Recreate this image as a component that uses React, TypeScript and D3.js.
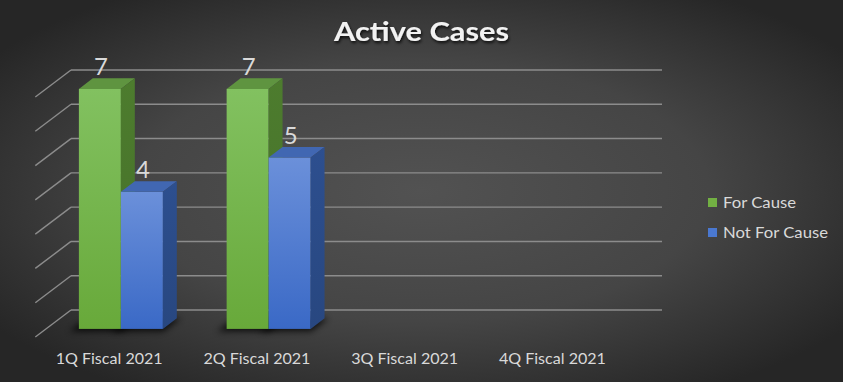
import React from "react";
import * as d3 from "d3";

const categories = ["1Q Fiscal 2021", "2Q Fiscal 2021", "3Q Fiscal 2021", "4Q Fiscal 2021"];
const seriesNames = ["For Cause", "Not For Cause"];
const forCause: (number | null)[] = [7, 7, null, null];
const notForCause: (number | null)[] = [4, 5, null, null];
const yTicks = [0, 1, 2, 3, 4, 5, 6, 7];
const title = "Active Cases";

const W = 843;
const H = 382;
const DX = 35.7;
const DY = 27;
const D_FRONT = 0.7;
const D_BACK = 0.31;

const palette = [
  { front0: "#82c160", front1: "#68a93a", top: "#5f9440", side: "#4d7c2e", legend: "#72b043" },
  { front0: "#6b90da", front1: "#3a69c6", top: "#4167b2", side: "#2d4f8f", legend: "#4a78d0" },
];
const legendWidths = [73, 105];

export default function App() {
  const x = d3.scaleBand<string>().domain(categories).range([71, 662]);
  const inner = d3
    .scaleBand<string>()
    .domain(seriesNames)
    .range([x.bandwidth() / 2 - 42 + 1, x.bandwidth() / 2 + 42 + 1]);
  const y = d3.scaleLinear().domain([0, 7]).range([310, 70]);

  const proj = (xw: number, yw: number, d: number): [number, number] => [xw - d * DX, yw + d * DY];
  const pts = (arr: [number, number][]) => arr.map((p) => p.join(",")).join(" ");

  const series = [forCause, notForCause];

  const bars: JSX.Element[] = [];
  const shadows: JSX.Element[] = [];
  const labels: JSX.Element[] = [];

  categories.forEach((c, ci) => {
    series.forEach((vals, si) => {
      const v = vals[ci];
      if (v == null) return;
      const x0 = (x(c) as number) + (inner(seriesNames[si]) as number);
      const x1 = x0 + inner.bandwidth();
      const yv = y(v);
      const y0 = y(0);
      const col = palette[si];
      const fTL = proj(x0, yv, D_FRONT);
      const fBR = proj(x1, y0, D_FRONT);
      bars.push(
        <g key={`b${ci}-${si}`}>
          <rect x={fTL[0]} y={fTL[1]} width={fBR[0] - fTL[0]} height={fBR[1] - fTL[1]} fill={`url(#front${si})`} />
          <polygon
            points={pts([proj(x0, yv, D_FRONT), proj(x1, yv, D_FRONT), proj(x1, yv, D_BACK), proj(x0, yv, D_BACK)])}
            fill={col.top}
          />
          <polygon
            points={pts([proj(x1, yv, D_FRONT), proj(x1, yv, D_BACK), proj(x1, y0, D_BACK), proj(x1, y0, D_FRONT)])}
            fill={`url(#side${si})`}
          />
        </g>
      );
      shadows.push(
        <polygon
          key={`s${ci}-${si}`}
          points={pts([
            proj(x0 - 6, y0, D_FRONT + 0.1),
            proj(x1 + 4, y0, D_FRONT + 0.1),
            proj(x1 + 4, y0, D_BACK),
            proj(x0 - 6, y0, D_BACK),
          ])}
          fill="#000"
          opacity={0.75}
          filter="url(#blur)"
        />
      );
      const lx = (fTL[0] + fBR[0]) / 2 + 1;
      const ly = proj(x0, yv, D_BACK)[1] - 3;
      labels.push(
        <text
          key={`l${ci}-${si}`}
          x={lx}
          y={ly}
          textAnchor="middle"
          fontFamily="Lato, 'Open Sans', sans-serif"
          fontSize={24}
          fill="#d9d9d9"
        >
          {v}
        </text>
      );
    });
  });

  return (
    <svg
      width={W}
      height={H}
      viewBox={`0 0 ${W} ${H}`}
      style={{ position: "absolute", left: 0, top: 0, display: "block" }}
    >
      <defs>
        <radialGradient id="bg" cx="0.5" cy="0.5" r="0.62" gradientUnits="objectBoundingBox">
          <stop offset="0" stopColor="#525252" />
          <stop offset="0.55" stopColor="#454545" />
          <stop offset="1" stopColor="#262626" />
        </radialGradient>
        {palette.map((p, i) => (
          <linearGradient key={`f${i}`} id={`front${i}`} x1="0" y1="0" x2="0" y2="1">
            <stop offset="0" stopColor={p.front0} />
            <stop offset="1" stopColor={p.front1} />
          </linearGradient>
        ))}
        {palette.map((p, i) => (
          <linearGradient key={`sd${i}`} id={`side${i}`} x1="0" y1="0" x2="0" y2="1">
            <stop offset="0" stopColor={p.side} />
            <stop offset="1" stopColor={d3.color(p.side)!.darker(0.3).formatHex()} />
          </linearGradient>
        ))}
        <filter id="blur" x="-30%" y="-100%" width="160%" height="300%">
          <feGaussianBlur stdDeviation="3" />
        </filter>
        <filter id="tshadow" x="-10%" y="-30%" width="120%" height="160%">
          <feDropShadow dx="1" dy="2" stdDeviation="1.5" floodColor="#000" floodOpacity="0.8" />
        </filter>
      </defs>
      <rect x={0} y={0} width={W} height={H} fill="url(#bg)" />

      <text
        x={421.5}
        y={41}
        textAnchor="middle"
        fontFamily="Lato, 'Open Sans', sans-serif"
        fontWeight="bold"
        fontSize={27}
        fill="#f2f2f2"
        textLength={175}
        lengthAdjust="spacingAndGlyphs"
        filter="url(#tshadow)"
      >
        {title}
      </text>

      <g stroke="#8c8c8c" strokeWidth={1.4} fill="none">
        {yTicks.map((t) => {
          const yy = y(t);
          const a = proj(71, yy, 0);
          const b = proj(71, yy, 1);
          return (
            <g key={`g${t}`}>
              <line x1={71} x2={662} y1={yy} y2={yy} />
              <line x1={a[0]} y1={a[1]} x2={b[0]} y2={b[1]} />
            </g>
          );
        })}
      </g>

      <g>{shadows}</g>
      <g>{bars}</g>
      <g>{labels}</g>

      <g fontFamily="Lato, 'Open Sans', sans-serif" fontSize={15} fill="#d9d9d9">
        {categories.map((c) => {
          const cx = proj((x(c) as number) + x.bandwidth() / 2, y(0), 1)[0];
          return (
            <text key={c} x={cx} y={364} textAnchor="middle" textLength={107} lengthAdjust="spacingAndGlyphs">
              {c}
            </text>
          );
        })}
      </g>

      <g fontFamily="Lato, 'Open Sans', sans-serif" fontSize={16} fill="#d9d9d9">
        {seriesNames.map((s, i) => (
          <g key={s} transform={`translate(708, ${198 + i * 30})`}>
            <rect x={0} y={0} width={9} height={9} fill={palette[i].legend} />
            <text x={15} y={9.5} textLength={legendWidths[i]} lengthAdjust="spacingAndGlyphs">
              {s}
            </text>
          </g>
        ))}
      </g>
    </svg>
  );
}
